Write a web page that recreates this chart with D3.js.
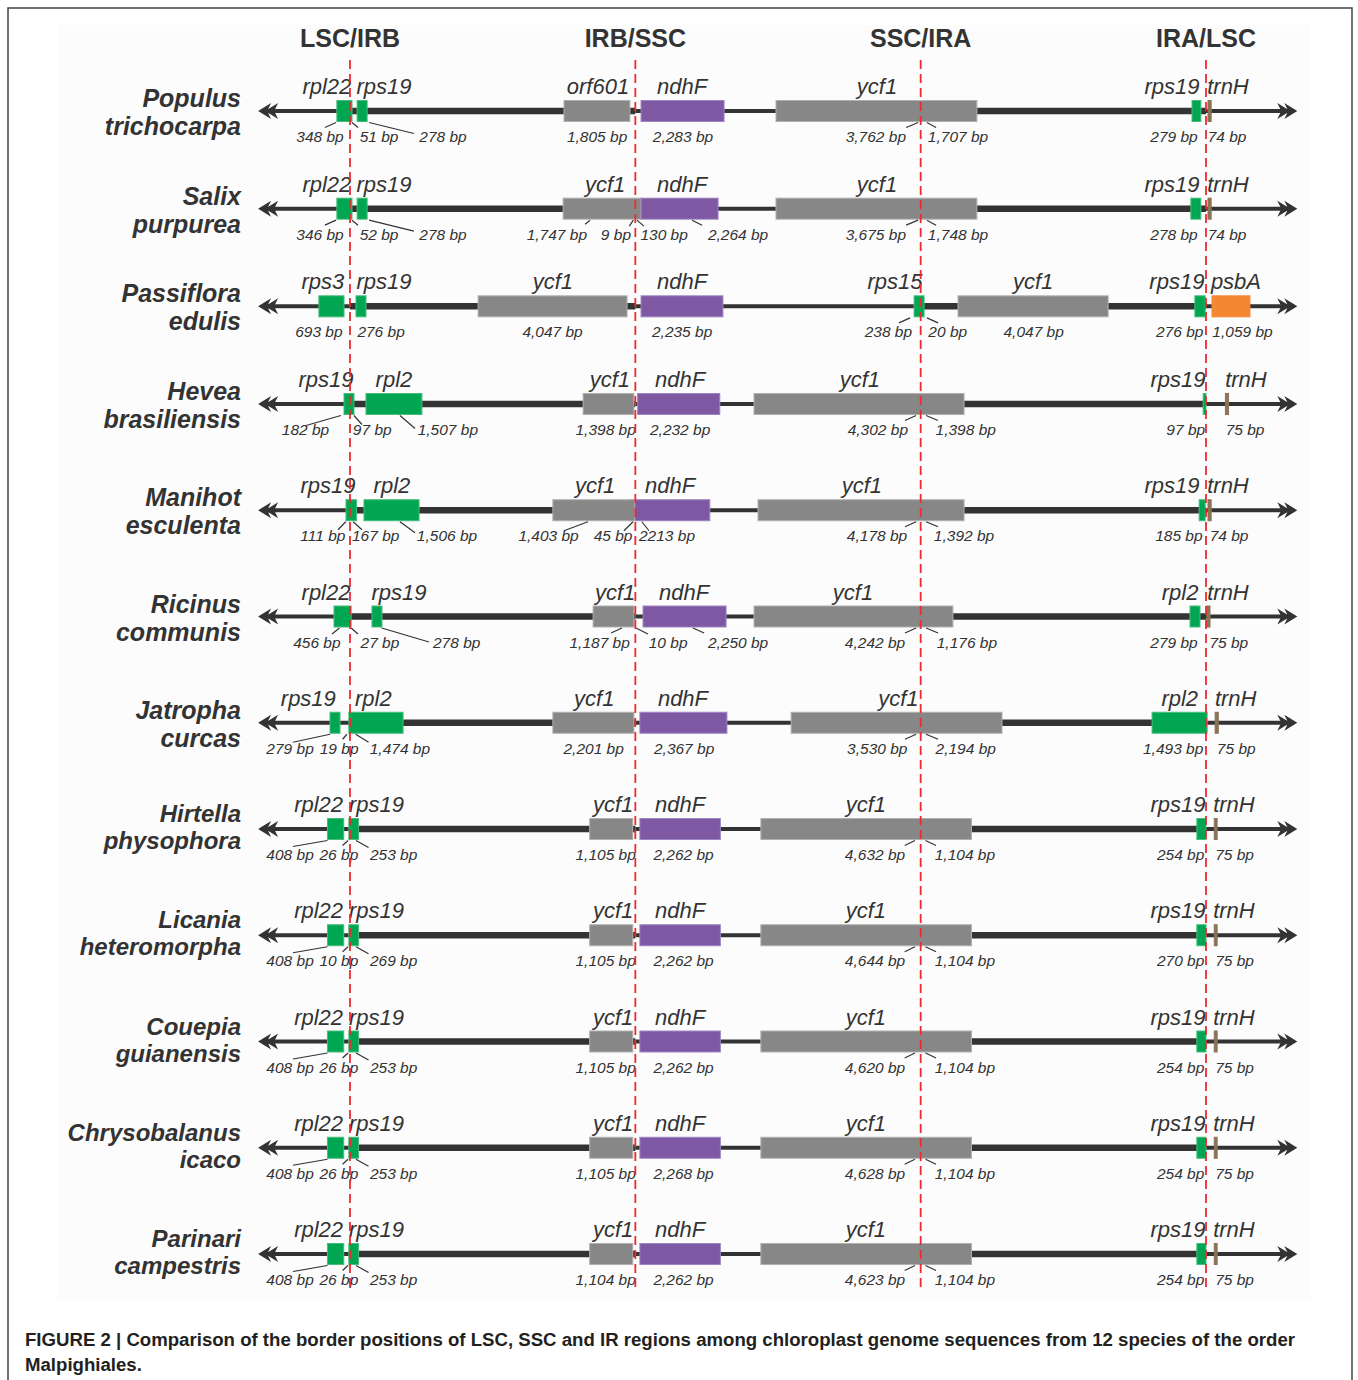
<!DOCTYPE html>
<html>
<head>
<meta charset="utf-8">
<script src="https://cdn.jsdelivr.net/npm/d3@7"></script>
<style>
body { margin: 0; background: #fff; }
svg text { font-family: "Liberation Sans", Arial, Helvetica, sans-serif; fill: #333; }
</style>
</head>
<body>
<svg id="fig" width="1358" height="1380"></svg>
<script>
// junction names, one per border (schematic units: 0,100,200,300)
var junctions = ["LSC/IRB", "IRB/SSC", "SSC/IRA", "IRA/LSC"];

var species = [
	["Populus", "trichocarpa"], ["Salix", "purpurea"], ["Passiflora", "edulis"],
	["Hevea", "brasiliensis"], ["Manihot", "esculenta"], ["Ricinus", "communis"],
	["Jatropha", "curcas"], ["Hirtella", "physophora"], ["Licania", "heteromorpha"],
	["Couepia", "guianensis"], ["Chrysobalanus", "icaco"], ["Parinari", "campestris"]
];

// genes per species: name, start, end, kind, name position (schematic units)
var genes = [
	[["rpl22", -4.6, 0.7, "g", -8.1], ["rps19", 2.5, 6.0, "g", 11.9], ["orf601", 75.0, 98.1, "y", 86.9], ["ndhF", 102.0, 131.1, "p", 116.4], ["ycf1", 149.3, 219.7, "y", 184.7], ["rps19", 295.1, 298.2, "g", 288.1], ["trnH", 300.7, 301.8, "b", 307.7]],
	[["rpl22", -4.6, 0.7, "g", -8.1], ["rps19", 2.5, 6.0, "g", 11.9], ["ycf1", 74.7, 102.0, "y", 89.4], ["ndhF", 102.0, 129.0, "p", 116.4], ["ycf1", 149.3, 219.7, "y", 184.7], ["rps19", 294.7, 298.2, "g", 288.1], ["trnH", 300.7, 301.8, "b", 307.7]],
	[["rps3", -10.9, -2.1, "g", -9.5], ["rps19", 2.1, 5.6, "g", 11.9], ["ycf1", 44.9, 97.1, "y", 71.1], ["ndhF", 102.0, 130.7, "p", 116.4], ["rps15", 197.7, 201.2, "g", 191.0], ["ycf1", 213.1, 265.7, "y", 239.4], ["rps19", 296.1, 299.7, "g", 289.8], ["psbA", 302.1, 315.4, "o", 310.5]],
	[["rps19", -2.1, 1.4, "g", -8.4], ["rpl2", 5.6, 25.2, "g", 15.4], ["ycf1", 81.7, 99.5, "y", 91.1], ["ndhF", 100.8, 129.6, "p", 115.7], ["ycf1", 141.6, 215.2, "y", 178.7], ["rps19", 299.0, 300.0, "g", 290.2], ["trnH", 306.8, 307.9, "b", 314.0]],
	[["rps19", -1.4, 2.3, "g", -7.7], ["rpl2", 4.9, 24.2, "g", 14.7], ["ndhF", 97.9, 126.1, "p", 112.2], ["ycf1", 71.1, 99.8, "y", 85.9], ["ycf1", 143.0, 215.2, "y", 179.4], ["rps19", 297.6, 299.7, "g", 288.1], ["trnH", 300.7, 301.8, "b", 307.7]],
	[["rpl22", -5.6, 0.4, "g", -8.4], ["rps19", 7.7, 11.2, "g", 17.2], ["ycf1", 85.2, 99.5, "y", 92.9], ["ndhF", 102.7, 131.8, "p", 117.1], ["ycf1", 141.6, 211.3, "y", 176.3], ["rpl2", 294.4, 297.9, "g", 290.9], ["trnH", 300.3, 301.4, "b", 307.7]],
	[["rps19", -7.0, -3.5, "g", -14.6], ["rpl2", -0.4, 18.6, "g", 8.2], ["ycf1", 71.1, 99.5, "y", 85.6], ["ndhF", 101.6, 132.1, "p", 116.7], ["ycf1", 154.6, 228.5, "y", 192.2], ["rpl2", 281.1, 300.4, "g", 290.8], ["trnH", 303.2, 304.3, "b", 310.4]],
	[["rpl22", -7.9, -2.2, "g", -11.0], ["rps19", -0.4, 3.0, "g", 9.3], ["ycf1", 84.0, 99.1, "y", 92.2], ["ndhF", 101.6, 129.8, "p", 115.7], ["ycf1", 144.0, 217.8, "y", 180.8], ["rps19", 296.8, 300.0, "g", 290.2], ["trnH", 302.9, 303.9, "b", 309.8]],
	[["rpl22", -7.9, -2.2, "g", -11.0], ["rps19", -0.4, 3.0, "g", 9.3], ["ycf1", 84.0, 99.1, "y", 92.2], ["ndhF", 101.6, 129.8, "p", 115.7], ["ycf1", 144.0, 217.8, "y", 180.8], ["rps19", 296.8, 300.0, "g", 290.2], ["trnH", 302.9, 303.9, "b", 309.8]],
	[["rpl22", -7.9, -2.2, "g", -11.0], ["rps19", -0.4, 3.0, "g", 9.3], ["ycf1", 84.0, 99.1, "y", 92.2], ["ndhF", 101.6, 129.8, "p", 115.7], ["ycf1", 144.0, 217.8, "y", 180.8], ["rps19", 296.8, 300.0, "g", 290.2], ["trnH", 302.9, 303.9, "b", 309.8]],
	[["rpl22", -7.9, -2.2, "g", -11.0], ["rps19", -0.4, 3.0, "g", 9.3], ["ycf1", 84.0, 99.1, "y", 92.2], ["ndhF", 101.6, 129.8, "p", 115.7], ["ycf1", 144.0, 217.8, "y", 180.8], ["rps19", 296.8, 300.0, "g", 290.2], ["trnH", 302.9, 303.9, "b", 309.8]],
	[["rpl22", -7.9, -2.2, "g", -11.0], ["rps19", -0.4, 3.0, "g", 9.3], ["ycf1", 84.0, 99.1, "y", 92.2], ["ndhF", 101.6, 129.8, "p", 115.7], ["ycf1", 144.0, 217.8, "y", 180.8], ["rps19", 296.8, 300.0, "g", 290.2], ["trnH", 302.9, 303.9, "b", 309.8]]
];

// distance labels: text, position
var bpLabels = [
	[["348 bp", -10.5], ["51 bp", 10.2], ["278 bp", 32.6], ["1,805 bp", 86.6], ["2,283 bp", 116.7], ["3,762 bp", 184.3], ["1,707 bp", 213.1], ["279 bp", 288.8], ["74 bp", 307.4]],
	[["346 bp", -10.5], ["52 bp", 10.2], ["278 bp", 32.6], ["1,747 bp", 72.5], ["9 bp", 93.2], ["130 bp", 110.1], ["2,264 bp", 136.0], ["3,675 bp", 184.3], ["1,748 bp", 213.1], ["278 bp", 288.8], ["74 bp", 307.4]],
	[["693 bp", -10.9], ["276 bp", 10.9], ["4,047 bp", 71.0], ["2,235 bp", 116.4], ["238 bp", 188.7], ["20 bp", 209.5], ["4,047 bp", 239.6], ["276 bp", 290.8], ["1,059 bp", 312.8]],
	[["182 bp", -15.6], ["97 bp", 7.8], ["1,507 bp", 34.3], ["1,398 bp", 89.6], ["2,232 bp", 115.7], ["4,302 bp", 185.0], ["1,398 bp", 215.8], ["97 bp", 292.9], ["75 bp", 313.7]],
	[["111 bp", -9.5], ["167 bp", 9.0], ["1,506 bp", 34.0], ["1,403 bp", 69.6], ["45 bp", 92.2], ["2213 bp", 111.1], ["4,178 bp", 184.7], ["1,392 bp", 215.2], ["185 bp", 290.5], ["74 bp", 308.1]],
	[["456 bp", -11.6], ["27 bp", 10.5], ["278 bp", 37.4], ["1,187 bp", 87.5], ["10 bp", 111.5], ["2,250 bp", 136.0], ["4,242 bp", 184.0], ["1,176 bp", 216.2], ["279 bp", 288.8], ["75 bp", 308.0]],
	[["279 bp", -21.0], ["19 bp", -3.8], ["1,474 bp", 17.5], ["2,201 bp", 85.4], ["2,367 bp", 117.1], ["3,530 bp", 184.8], ["2,194 bp", 215.8], ["1,493 bp", 288.5], ["75 bp", 310.6]],
	[["408 bp", -21.0], ["26 bp", -3.9], ["253 bp", 15.3], ["1,105 bp", 89.6], ["2,262 bp", 116.9], ["4,632 bp", 184.0], ["1,104 bp", 215.5], ["254 bp", 291.1], ["75 bp", 310.0]],
	[["408 bp", -21.0], ["10 bp", -3.9], ["269 bp", 15.3], ["1,105 bp", 89.6], ["2,262 bp", 116.9], ["4,644 bp", 184.0], ["1,104 bp", 215.5], ["270 bp", 291.1], ["75 bp", 310.0]],
	[["408 bp", -21.0], ["26 bp", -3.9], ["253 bp", 15.3], ["1,105 bp", 89.6], ["2,262 bp", 116.9], ["4,620 bp", 184.0], ["1,104 bp", 215.5], ["254 bp", 291.1], ["75 bp", 310.0]],
	[["408 bp", -21.0], ["26 bp", -3.9], ["253 bp", 15.3], ["1,105 bp", 89.6], ["2,268 bp", 116.9], ["4,628 bp", 184.0], ["1,104 bp", 215.5], ["254 bp", 291.1], ["75 bp", 310.0]],
	[["408 bp", -21.0], ["26 bp", -3.9], ["253 bp", 15.3], ["1,104 bp", 89.6], ["2,262 bp", 116.9], ["4,623 bp", 184.0], ["1,104 bp", 215.5], ["254 bp", 291.1], ["75 bp", 310.0]]
];

// leader ticks: from, to, drop
var leaders = [
	[[-4.9, -8.8, 5], [0.7, 2.8, 5], [6.7, 22.4, 11], [199.1, 194.9, 5], [202.2, 205.4, 5]],
	[[-4.9, -8.8, 5], [0.7, 2.8, 5], [6.7, 22.4, 11], [84.1, 82.4, 4], [99.3, 97.9, 6], [100.6, 103.0, 6], [119.9, 123.4, 5], [199.1, 194.9, 5], [202.2, 205.4, 5]],
	[[196.3, 192.4, 5], [202.2, 206.1, 5]],
	[[-3.2, -15.4, 10], [1.4, 4.2, 9], [17.5, 22.8, 13], [198.4, 194.5, 5], [201.9, 206.1, 5]],
	[[-1.5, -4.2, 8], [1.1, 4.2, 8], [17.5, 22.8, 11], [83.4, 75.0, 9], [99.2, 96.0, 9], [102.3, 104.8, 9], [198.4, 194.5, 5], [201.9, 206.1, 5]],
	[[-3.7, -6.3, 6], [0.4, 2.8, 6], [11.1, 27.7, 14], [95.3, 91.5, 5], [100.2, 104.4, 6], [120.2, 124.1, 5], [198.4, 194.5, 5], [201.9, 206.1, 5]],
	[[-7.0, -20.0, 8], [-1.1, -2.6, 5], [2.0, 6.5, 8], [198.4, 194.5, 5], [201.9, 206.1, 5]],
	[[-7.9, -20.0, 6], [-0.7, -2.6, 5], [2.1, 6.5, 7], [198.0, 194.4, 5], [201.7, 205.4, 5]],
	[[-7.9, -20.0, 6], [-0.7, -2.6, 5], [2.1, 6.5, 7], [198.0, 194.4, 5], [201.7, 205.4, 5]],
	[[-7.9, -20.0, 6], [-0.7, -2.6, 5], [2.1, 6.5, 7], [198.0, 194.4, 5], [201.7, 205.4, 5]],
	[[-7.9, -20.0, 6], [-0.7, -2.6, 5], [2.1, 6.5, 7], [198.0, 194.4, 5], [201.7, 205.4, 5]],
	[[-7.9, -20.0, 6], [-0.7, -2.6, 5], [2.1, 6.5, 7], [198.0, 194.4, 5], [201.7, 205.4, 5]]
];

var caption = [
	"FIGURE 2 | Comparison of the border positions of LSC, SSC and IR regions among chloroplast genome sequences from 12 species of the order",
	"Malpighiales."
];

var svg = d3.select("#fig");
var x = d3.scaleLinear().domain([0, 300]).range([350, 1206]);
var y = d3.scaleLinear().domain([0, 3, 11]).range([111, 404, 1254]);
var kinds = ["g", "y", "p", "o", "b"];
var fill = d3.scaleOrdinal().domain(kinds).range(["#00a651", "#878787", "#7e58a3", "#f58733", "#8a7356"]);
var edge = d3.scaleOrdinal().domain(kinds).range(["#47bd7c", "#b0b0b0", "#9d85c2", "#f58733", "#8a7356"]);

// frame + light panel
svg.append("rect").attr("x", 8).attr("y", 8).attr("width", 1344).attr("height", 1390)
	.attr("fill", "#fff").attr("stroke", "#444").attr("stroke-width", 1.5);
svg.append("rect").attr("x", 58).attr("y", 25).attr("width", 1252).attr("height", 1275)
	.attr("fill", "#fcfcfc");

// junction headings
svg.selectAll("text.junc").data(junctions).enter().append("text")
	.attr("class", "junc")
	.attr("x", function(d, i){ return x(i * 100); })
	.attr("y", 47)
	.attr("text-anchor", "middle")
	.style("font-size", "25px").style("font-weight", "bold")
	.text(function(d){ return d; });

var segs = [[-32.2, 0, 4], [0, 100, 6.5], [100, 200, 4], [200, 300, 6.5], [300, 332, 4]];

function chevron(tip, cy, dir){
	var p = "";
	[0, 7].forEach(function(o){
		var t = tip - dir * o;
		p += "M" + t + "," + cy + "L" + (t - dir * 13) + "," + (cy - 8) +
			"L" + (t - dir * 9) + "," + cy + "L" + (t - dir * 13) + "," + (cy + 8) + "Z";
	});
	return p;
}

var rows = svg.selectAll("g.row").data(species).enter().append("g")
	.attr("class", "row")
	.attr("transform", function(d, i){ return "translate(0," + y(i) + ")"; });

rows.each(function(sp, i){
	var g = d3.select(this);

	g.selectAll("line.seg").data(segs).enter().append("line")
		.attr("x1", function(d){ return x(d[0]) + (d[0] < -30 ? 6 : 0); })
		.attr("x2", function(d){ return x(d[1]) - (d[1] > 330 ? 6 : 0); })
		.attr("y1", 0).attr("y2", 0)
		.attr("stroke", "#333")
		.attr("stroke-width", function(d){ return d[2]; });

	g.append("path").attr("d", chevron(x(-32.2), 0, -1) + chevron(x(332), 0, 1))
		.attr("fill", "#333");

	g.selectAll("rect.gene").data(genes[i]).enter().append("rect")
		.attr("class", "gene")
		.attr("x", function(d){ return x(d[1]); })
		.attr("width", function(d){ return x(d[2]) - x(d[1]); })
		.attr("y", -10.5).attr("height", 21)
		.attr("fill", function(d){ return fill(d[3]); })
		.attr("stroke", function(d){ return edge(d[3]); })
		.attr("stroke-width", 1);

	g.selectAll("line.lead").data(leaders[i]).enter().append("line")
		.attr("x1", function(d){ return x(d[0]); })
		.attr("x2", function(d){ return x(d[1]); })
		.attr("y1", 11.5)
		.attr("y2", function(d){ return 11.5 + d[2]; })
		.attr("stroke", "#333").attr("stroke-width", 1.2);

	g.selectAll("text.gname").data(genes[i]).enter().append("text")
		.attr("class", "gname")
		.attr("x", function(d){ return x(d[4]); })
		.attr("y", -17)
		.attr("text-anchor", "middle")
		.style("font-size", "22px").style("font-style", "italic")
		.text(function(d){ return d[0]; });

	g.selectAll("text.bp").data(bpLabels[i]).enter().append("text")
		.attr("class", "bp")
		.attr("x", function(d){ return x(d[1]); })
		.attr("y", 31)
		.attr("text-anchor", "middle")
		.style("font-size", "15.5px").style("font-style", "italic")
		.text(function(d){ return d[0]; });

	g.selectAll("text.sp").data(sp).enter().append("text")
		.attr("class", "sp")
		.attr("x", 241)
		.attr("y", function(d, k){ return k === 0 ? (i < 7 ? -4 : -7) : (i < 7 ? 24 : 20); })
		.attr("text-anchor", "end")
		.style("font-size", i < 7 ? "25px" : "24px").style("font-weight", "bold").style("font-style", "italic")
		.text(function(d){ return d; });
});

// junction dashed lines on top of the genes
svg.selectAll("line.border").data(junctions).enter().append("line")
	.attr("class", "border")
	.attr("x1", function(d, i){ return x(i * 100); })
	.attr("x2", function(d, i){ return x(i * 100); })
	.attr("y1", 60).attr("y2", 1290)
	.attr("stroke", "#ee2a2f").attr("stroke-width", 1.8)
	.attr("stroke-dasharray", "9,5");

// caption, squeezed to the width of the original
var cap = svg.selectAll("text.cap").data(caption).enter().append("text")
	.attr("class", "cap")
	.attr("x", 25)
	.attr("y", function(d, i){ return 1346 + i * 25; })
	.style("font-size", "18px").style("font-weight", "bold").style("fill", "#231f20")
	.text(function(d){ return d; });
var full = cap.nodes()[0].getComputedTextLength();
var squeeze = 1270 / full;
cap.each(function(){
	var w = this.getComputedTextLength();
	d3.select(this).attr("textLength", w * squeeze).attr("lengthAdjust", "spacingAndGlyphs");
});
</script>
</body>
</html>
